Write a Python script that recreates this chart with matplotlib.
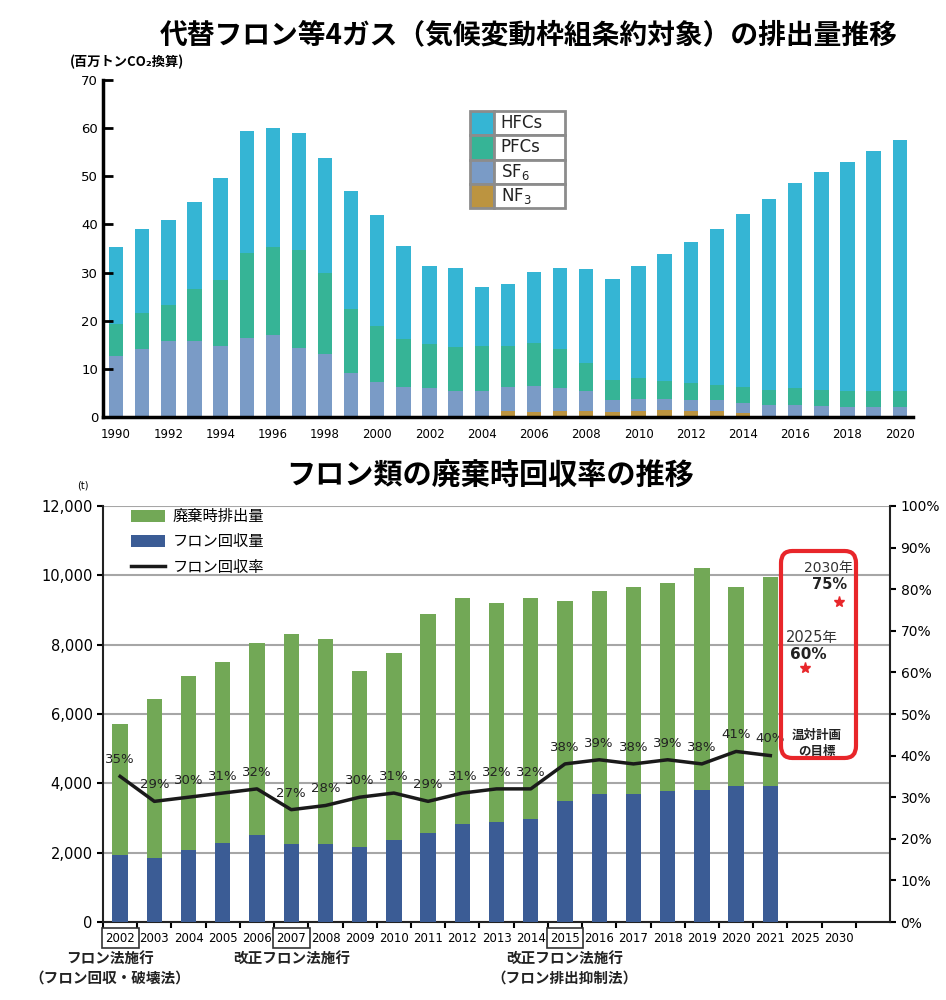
import numpy as np
import matplotlib
matplotlib.use("Agg")
import matplotlib.pyplot as plt
from matplotlib.patches import FancyBboxPatch
from matplotlib.ticker import FuncFormatter

plt.rcParams['font.family'] = ['DejaVu Sans', 'Noto Sans CJK JP']

# --- top chart data (million t CO2 eq.) ---
years1 = list(range(1990, 2021))
nf3 = [0]*14 + [0.3, 1.2, 1.0, 1.2, 1.2, 1.0, 1.2, 1.5, 1.2, 1.2, 0.8, 0.3, 0.3, 0.3, 0.1, 0.1, 0.1]
sf6 = [12.6, 14.2, 15.7, 15.7, 14.8, 16.4, 17.1, 14.4, 13.1, 9.2, 7.2, 6.2, 6.0, 5.5,
       5.2, 5.0, 5.5, 4.8, 4.3, 2.5, 2.5, 2.2, 2.3, 2.3, 2.2, 2.2, 2.2, 2.0, 1.9, 1.9, 1.9]
pfc = [6.7, 7.4, 7.6, 10.8, 13.7, 17.7, 18.2, 20.2, 16.8, 13.3, 11.8, 9.9, 9.1, 9.1,
       9.3, 8.6, 8.8, 8.1, 5.7, 4.1, 4.3, 3.8, 3.5, 3.2, 3.2, 3.2, 3.5, 3.4, 3.5, 3.5, 3.5]
hfc = [16.0, 17.4, 17.7, 18.2, 21.1, 25.4, 24.7, 24.4, 24.0, 24.4, 23.0, 19.5, 16.3, 16.3,
       12.3, 12.9, 14.9, 16.8, 19.5, 21.1, 23.4, 26.4, 29.3, 32.3, 36.0, 39.5, 42.7, 45.2,
       47.4, 49.8, 52.0]
gas_names = ['HFCs', 'PFCs', 'SF$_6$', 'NF$_3$']
gas_colors = ['#35B5D4', '#36B496', '#7A9BC6', '#BC9440']

# --- bottom chart data ---
labels2 = [str(y) for y in range(2002, 2022)] + ['2025', '2030']
total = [5700, 6440, 7110, 7500, 8050, 8320, 8170, 7250, 7760, 8890,
         9350, 9200, 9350, 9270, 9540, 9650, 9790, 10210, 9660, 9940]
recovered = [1930, 1860, 2080, 2280, 2520, 2250, 2250, 2160, 2360, 2560,
             2830, 2890, 2970, 3480, 3690, 3680, 3770, 3820, 3930, 3920]
rate = [35, 29, 30, 31, 32, 27, 28, 30, 31, 29, 31, 32, 32, 38, 39, 38, 39, 38, 41, 40]
target_labels = ['2025', '2030']
target_rate = [60, 75]
target_pos = [61, 77]
boxed_years = ['2002', '2007', '2015']

fig = plt.figure(figsize=(9.46, 10), dpi=100)

# ================= top chart =================
ax1 = fig.add_axes([0.1089, 0.583, 0.856, 0.337])
x1 = np.arange(len(years1))
bottom = np.zeros(len(years1))
for vals, col in zip([nf3, sf6, pfc, hfc], gas_colors[::-1]):
    ax1.bar(x1, vals, 0.55, bottom=bottom, color=col)
    bottom += np.array(vals)
ax1.set_xlim(-0.5, 30.5)
ax1.set_ylim(0, 70)
ax1.set_xticks(x1[::2])
ax1.set_xticklabels([str(y) for y in years1[::2]], fontsize=8.5)
ax1.set_yticks(range(0, 71, 10))
ax1.tick_params(axis='x', length=0, pad=8)
ax1.tick_params(axis='y', direction='in', length=7, width=2, labelsize=9.5)
for s in ['top', 'right']:
    ax1.spines[s].set_visible(False)
for s in ['left', 'bottom']:
    ax1.spines[s].set_linewidth(2.5)

tbl = ax1.table(cellText=[['', n] for n in gas_names],
                cellColours=[[c, 'white'] for c in gas_colors],
                colWidths=[0.25, 0.75], cellLoc='left',
                bbox=[0.453, 0.62, 0.117, 0.288])
tbl.auto_set_font_size(False)
tbl.set_fontsize(12)
for cell in tbl.get_celld().values():
    cell.set_edgecolor('#8c8c8c')
    cell.set_linewidth(2)
    cell.get_text().set_color('#222222')

fig.text(0.559, 0.965, '代替フロン等4ガス（気候変動枠組条約対象）の排出量推移',
         ha='center', va='center', fontsize=20, weight='bold',
         family=['Noto Sans CJK JP', 'DejaVu Sans'])
fig.text(0.074, 0.938, '(百万トンCO₂換算)', ha='left', va='center',
         fontsize=9.5, weight='bold', family=['Noto Sans CJK JP', 'DejaVu Sans'])

# ================= bottom chart =================
ax2 = fig.add_axes([0.1089, 0.078, 0.832, 0.416])
x2 = np.arange(len(labels2))
n = len(total)
b1 = ax2.bar(x2[:n], total, 0.45, color='#72A856', label='廃棄時排出量', zorder=2)
b2 = ax2.bar(x2[:n], recovered, 0.45, color='#3B5C95', label='フロン回収量', zorder=3)
ax2.set_xlim(-0.5, 22.5)
ax2.set_ylim(0, 12000)
ax2.set_yticks(range(0, 12001, 2000))
ax2.yaxis.set_major_formatter(FuncFormatter(lambda v, p: f'{int(v):,}'))
ax2.grid(axis='y', color='#a6a6a6', lw=1.5)
ax2.set_axisbelow(True)
ax2.set_xticks(np.arange(-0.5, 22, 1))
ax2.set_xticklabels([])
ax2.set_xticks(x2, minor=True)
ax2.set_xticklabels(labels2, minor=True, fontsize=8.5)
ax2.tick_params(axis='x', which='minor', length=0, pad=7)
ax2.tick_params(axis='x', which='major', length=4, width=1.5)
ax2.tick_params(axis='y', length=4, width=1.5, labelsize=10.5)
for lbl in ax2.get_xticklabels(minor=True):
    if lbl.get_text() in boxed_years:
        lbl.set_bbox(dict(boxstyle='square,pad=0.3', fc='white', ec='#333333', lw=1.2))
ax2.spines['top'].set_visible(False)
ax2.spines['right'].set_visible(False)
for s in ['left', 'bottom']:
    ax2.spines[s].set_linewidth(1.5)
    ax2.spines[s].set_color('#222222')

ax3 = ax2.twinx()
ax3.set_ylim(0, 100)
ax3.set_yticks(range(0, 101, 10))
ax3.yaxis.set_major_formatter(FuncFormatter(lambda v, p: f'{int(v)}%'))
ax3.tick_params(axis='y', length=4, width=1.5, labelsize=10)
for s in ['top', 'left', 'bottom']:
    ax3.spines[s].set_visible(False)
ax3.spines['right'].set_linewidth(1.5)
ax3.spines['right'].set_color('#222222')
ln, = ax3.plot(x2[:n], rate, color='#1a1a1a', lw=2.5, label='フロン回収率')
for xi, r in zip(x2[:n], rate):
    ax3.annotate(f'{r}%', (xi, r), xytext=(0, 12), textcoords='offset points',
                 ha='center', va='center', fontsize=9.5, color='#222222')

tx = [labels2.index(t) for t in target_labels]
ax3.plot(tx, target_pos, '*', color='#E8262A', ms=8, zorder=5)
ax3.text(tx[1] - 0.3, 85.1, '2030年', ha='center', va='center', fontsize=10, color='#333333')
ax3.text(tx[1] - 0.27, 81.2, f'{target_rate[1]}%', ha='center', va='center', fontsize=10.5,
         weight='bold', color='#222222')
ax3.text(tx[0] + 0.2, 68.5, '2025年', ha='center', va='center', fontsize=10.5, color='#333333')
ax3.text(tx[0] + 0.1, 64.2, f'{target_rate[0]}%', ha='center', va='center', fontsize=11,
         weight='bold', color='#222222')
ax3.text(tx[0] + 0.35, 43, '温対計画\nの目標', ha='center', va='center', fontsize=9,
         weight='bold', linespacing=1.3, color='#222222',
         family=['Noto Sans CJK JP', 'DejaVu Sans'])

box = FancyBboxPatch((781/946, 1 - 758/1000), 75/946, 207/1000,
                     boxstyle='round,pad=0,rounding_size=0.012',
                     transform=fig.transFigure, ec='#E8262A', fc='none', lw=3)
fig.add_artist(box)

ax3.legend([b1, b2, ln], ['廃棄時排出量', 'フロン回収量', 'フロン回収率'],
           loc='upper left', bbox_to_anchor=(0.036, 0.995), frameon=False,
           handlelength=2.2, handleheight=0.8, labelspacing=0.55,
           borderpad=0, borderaxespad=0, handletextpad=0.5,
           prop={'family': ['Noto Sans CJK JP', 'DejaVu Sans'], 'size': 11})

notes = [(0, -0.3, 'フロン法施行\n（フロン回収・破壊法）'),
         (5, 0, '改正フロン法施行'),
         (13, 0, '改正フロン法施行\n（フロン排出抑制法）')]
for xi, dx, txt in notes:
    ax2.annotate(txt, xy=(xi + dx, -0.07), xycoords=('data', 'axes fraction'),
                 ha='center', va='top', fontsize=10.5, weight='bold', linespacing=1.2,
                 color='#222222', annotation_clip=False,
                 family=['Noto Sans CJK JP', 'DejaVu Sans'])

fig.text(83/946, 1 - 485/1000, '(t)', ha='center', va='center', fontsize=7)
fig.text(0.518, 0.525, 'フロン類の廃棄時回収率の推移', ha='center', va='center',
         fontsize=21, weight='bold', family=['Noto Sans CJK JP', 'DejaVu Sans'])

fig.savefig('out.png', dpi=100)
